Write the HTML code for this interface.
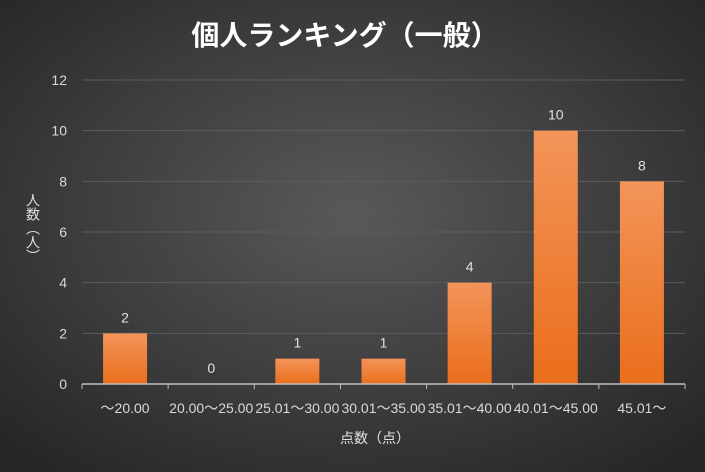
<!DOCTYPE html>
<html><head><meta charset="utf-8"><style>
body{margin:0;width:705px;height:472px;overflow:hidden}
svg{display:block;font-family:"Liberation Sans","Noto Sans CJK JP",sans-serif}
</style></head><body>
<svg id="c" width="705" height="472">
<defs>
<radialGradient id="bg" cx="50%" cy="45%" r="70%"><stop offset="0" stop-color="#595959"/><stop offset="1" stop-color="#262626"/></radialGradient>
<linearGradient id="bar" x1="0" y1="0" x2="0" y2="1"><stop offset="0" stop-color="#f39459"/><stop offset="1" stop-color="#ea6e1c"/></linearGradient>
</defs>
<rect width="705" height="472" fill="url(#bg)"/>
<text x="345" y="45" text-anchor="middle" fill="#fff" font-size="28" font-weight="bold">個人ランキング（一般）</text>
<text x="375" y="443" text-anchor="middle" fill="#e0e0e0" font-size="14">点数（点）</text>
<text transform="translate(33,228)" fill="#e0e0e0" font-size="14" text-anchor="middle" writing-mode="tb">人数（人）</text>
<g id="plot"></g>
</svg>
<script>
const categories=["～20.00","20.00～25.00","25.01～30.00","30.01～35.00","35.01～40.00","40.01～45.00","45.01～"];
const values=[2,0,1,1,4,10,8];
const yTicks=[0,2,4,6,8,10,12];
const L=82,R=685,T=80,B=384,yMax=12;
const y=v=>B-(v/yMax)*(B-T);
const bw=(R-L)/categories.length;
const x=i=>L+bw*i;
const g=document.getElementById('plot');
const NS="http://www.w3.org/2000/svg";
function mk(t,a,txt){const e=document.createElementNS(NS,t);for(const k in a)e.setAttribute(k,a[k]);if(txt!==undefined)e.textContent=txt;g.appendChild(e);return e;}
yTicks.forEach(v=>{
 if(v>0){const l=mk('line',{x1:L,x2:R,y1:y(v),y2:y(v),stroke:'#5c5c5c','stroke-width':1});
 
 }
 const t=mk('text',{x:67,y:y(v)+5,'text-anchor':'end',fill:'#d9d9d9','font-size':14},v);
 
 
});
categories.forEach((c,i)=>{
 const cx=x(i)+bw/2,v=values[i];
 const r=mk('rect',{x:cx-22,y:y(v),width:44,height:B-y(v),fill:'url(#bar)'});
 
 
 const lb=mk('text',{x:cx,y:y(v)-11,'text-anchor':'middle',fill:'#e0e0e0','font-size':14},v);
 
 
 const xt=mk('text',{x:cx,y:413,'text-anchor':'middle',fill:'#d9d9d9','font-size':14},c);
 
 
});
for(let i=0;i<=categories.length;i++){
 const tk=mk('line',{x1:x(i),x2:x(i),y1:B,y2:B+5,stroke:'#bfbfbf','stroke-width':1});
 
 
}
const ax=mk('line',{x1:L,x2:R,y1:B,y2:B,stroke:'#bfbfbf','stroke-width':1.5});


</script>
</body></html>
